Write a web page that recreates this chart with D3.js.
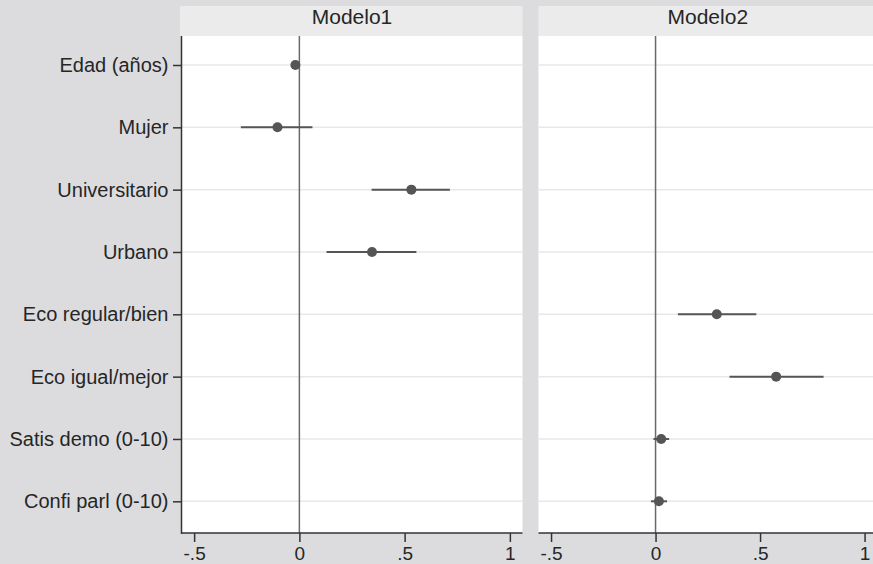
<!DOCTYPE html>
<html>
<head>
<meta charset="utf-8">
<script src="https://cdn.jsdelivr.net/npm/d3@7"></script>
<style>
  body { margin: 0; background: #dcdcdf; }
  text { font-family: "Liberation Sans", Arial, sans-serif; fill: #262626; }
</style>
</head>
<body>
<div id="chart"></div>
<script>
// datos
var categories = ["Edad (años)", "Mujer", "Universitario", "Urbano",
  "Eco regular/bien", "Eco igual/mejor", "Satis demo (0-10)", "Confi parl (0-10)"];
var panelNames = ["Modelo1", "Modelo2"];

var est1 = [-0.019, -0.104, 0.532, 0.345, null, null, null, null];
var lo1  = [-0.030, -0.278, 0.343, 0.129, null, null, null, null];
var hi1  = [-0.008,  0.062, 0.715, 0.556, null, null, null, null];

var est2 = [null, null, null, null, 0.293, 0.577, 0.027, 0.016];
var lo2  = [null, null, null, null, 0.107, 0.354, -0.010, -0.022];
var hi2  = [null, null, null, null, 0.482, 0.804, 0.065, 0.055];

var xTicks = [-0.5, 0, 0.5, 1];
var xTickLabels = ["-.5", "0", ".5", "1"];

var W = 873, H = 564;
var plotTop = 36, plotBottom = 533, stripTop = 6;
var fontFam = "'Liberation Sans', Arial, sans-serif";

var svg = d3.select("#chart").append("svg")
  .attr("width", W).attr("height", H);

svg.append("rect").attr("width", W).attr("height", H).attr("fill", "#dcdcdf");

var y = d3.scalePoint().domain(categories).range([65, 501.3]);

var panels = [
  {name: panelNames[0], left: 181.5, right: 522.5, est: est1, lo: lo1, hi: hi1},
  {name: panelNames[1], left: 538.5, right: 877.1, est: est2, lo: lo2, hi: hi2}
];

panels.forEach(function(p, k) {
  var x = d3.scaleLinear().domain([-0.56, 1.06]).range([p.left, p.right]);
  var g = svg.append("g");

  // franja del titulo
  g.append("rect")
    .attr("x", k === 0 ? p.left - 1.5 : p.left).attr("y", stripTop)
    .attr("width", p.right - p.left + (k === 0 ? 1.5 : 0)).attr("height", plotTop - stripTop)
    .attr("fill", "#ebebeb");
  g.append("text")
    .attr("x", (p.left + p.right) / 2)
    .attr("y", 24)
    .attr("text-anchor", "middle")
    .style("font-size", "21px")
    .text(p.name);

  // fondo del panel
  g.append("rect")
    .attr("x", p.left).attr("y", plotTop)
    .attr("width", p.right - p.left).attr("height", plotBottom - plotTop)
    .attr("fill", "#fff");

  // lineas de la cuadricula
  g.selectAll(".grid")
    .data(categories)
    .enter()
    .append("line")
    .attr("x1", p.left).attr("x2", p.right)
    .attr("y1", d => y(d)).attr("y2", d => y(d))
    .attr("stroke", "#e8e8e8").attr("stroke-width", 1.5);

  // linea en cero
  g.append("line")
    .attr("x1", x(0)).attr("x2", x(0))
    .attr("y1", plotTop).attr("y2", plotBottom)
    .attr("stroke", "#6a6a6a").attr("stroke-width", 1.5);

  var rows = categories.map((c, i) => ({cat: c, est: p.est[i], lo: p.lo[i], hi: p.hi[i]}))
    .filter(d => d.est !== null);

  g.selectAll(".ci")
    .data(rows)
    .enter()
    .append("line")
    .attr("x1", d => x(d.lo)).attr("x2", d => x(d.hi))
    .attr("y1", d => y(d.cat)).attr("y2", d => y(d.cat))
    .attr("stroke", "#555").attr("stroke-width", 2);

  g.selectAll(".pt")
    .data(rows)
    .enter()
    .append("circle")
    .attr("cx", d => x(d.est)).attr("cy", d => y(d.cat))
    .attr("r", 5)
    .attr("fill", "#555");

  // eje x
  var ax = g.append("g")
    .attr("transform", "translate(0," + plotBottom + ")")
    .call(d3.axisBottom(x).tickValues(xTicks)
      .tickFormat((d, i) => xTickLabels[i])
      .tickSize(9).tickSizeOuter(0).tickPadding(5));
  ax.select(".domain").attr("stroke", "#333").attr("stroke-width", 1.5)
    .attr("d", "M" + (k === 0 ? p.left - 0.5 : p.left) + ",0H" + p.right);
  ax.selectAll(".tick line").attr("stroke", "#333").attr("stroke-width", 1.5);
  ax.selectAll(".tick text").style("font-size", "19px").attr("fill", "#262626")
    .style("font-family", fontFam);

  // eje y solo en el primer panel
  if (k === 0) {
    var ay = g.append("g")
      .attr("transform", "translate(" + p.left + ",0)")
      .call(d3.axisLeft(y).tickSize(8.5).tickSizeOuter(0).tickPadding(4.5));
    ay.select(".domain").attr("stroke", "#333").attr("stroke-width", 1.5)
      .attr("d", "M0," + plotTop + "V" + (plotBottom + 0.75));
    ay.selectAll(".tick line").attr("stroke", "#333").attr("stroke-width", 1.5);
    ay.selectAll(".tick text").style("font-size", "20px").attr("fill", "#262626")
      .style("font-family", fontFam);
  }
});
</script>
</body>
</html>
